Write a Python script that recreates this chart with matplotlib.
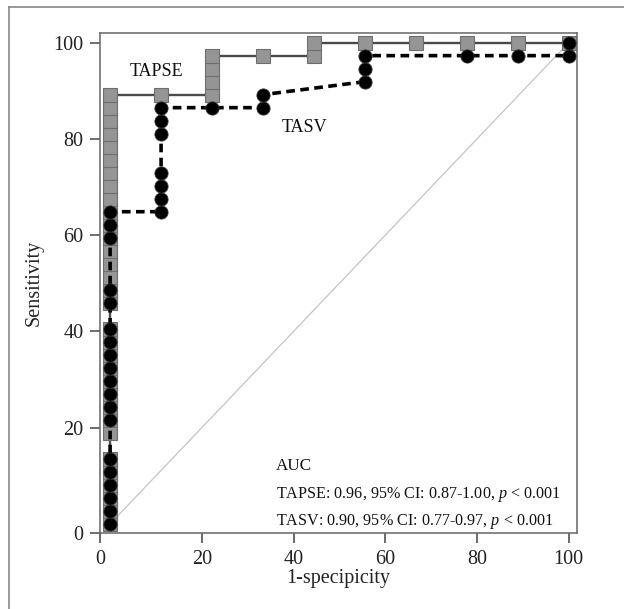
import numpy as np
import matplotlib.pyplot as plt
from matplotlib.lines import Line2D

# ROC data: 37 positives, 9 negatives (values in %)
n_pos = 37
n_neg = 9

# TAPSE: (false positives, true positive counts at that step)
tapse_fp = [0] * 32 + [1, 2, 2, 2, 2, 3, 4, 4, 5, 6, 7, 8, 9]
tapse_tp = [k for k in range(34) if k not in (6, 16)] + \
           [33, 33, 34, 35, 36, 36, 36, 37, 37, 37, 37, 37, 37]

# TASV
tasv_fp = [0] * 19 + [1] * 7 + [2, 3, 3, 5, 5, 5, 7, 8, 9, 9]
tasv_tp = [0, 1, 2, 3, 4, 5, 8, 9, 10, 11, 12, 13, 14, 15, 17, 18, 22, 23, 24] + \
          [24, 25, 26, 27, 30, 31, 32] + \
          [32, 32, 33, 34, 35, 36, 36, 36, 36, 37]

x_ticks = [0, 20, 40, 60, 80, 100]
y_ticks = [0, 20, 40, 60, 80, 100]

tapse_x = np.array(tapse_fp) / n_neg * 100
tapse_y = np.array(tapse_tp) / n_pos * 100
tasv_x = np.array(tasv_fp) / n_neg * 100
tasv_y = np.array(tasv_tp) / n_pos * 100

plt.rcParams['font.family'] = ['Liberation Serif', 'DejaVu Serif']
plt.rcParams['mathtext.fontset'] = 'custom'
plt.rcParams['mathtext.rm'] = 'Liberation Serif'
plt.rcParams['mathtext.it'] = 'Liberation Serif:italic'

fig = plt.figure(figsize=(6.24, 6.09), dpi=100)
ax = fig.add_axes([0.1603, 0.1248, 0.7644, 0.821])

# frame lines round the figure (left and top)
fig.add_artist(Line2D([0.0145, 0.0145], [0, 0.988], transform=fig.transFigure,
                      color='#888888', lw=1.2))
fig.add_artist(Line2D([0.0145, 1.0], [0.988, 0.988], transform=fig.transFigure,
                      color='#888888', lw=1.2))

ax.plot([0, 100], [0, 100], color='#c4c4c4', lw=0.9, zorder=1)

ax.plot(tapse_x, tapse_y, color='#4a4a4a', lw=1.7, zorder=2)
ax.plot(tapse_x, tapse_y, ls='none', marker='s', ms=9.5,
        mfc='#959595', mec='#6e6e6e', mew=0.8, zorder=3)

ax.plot(tasv_x, tasv_y, color='black', lw=2.6, dashes=(2.4, 1.5), zorder=4)
ax.plot(tasv_x, tasv_y, ls='none', marker='o', ms=9.5,
        mfc='black', mec='#333333', mew=0.6, zorder=5)

xlo, xhi = -2.2, 101.8
ylo, yhi = -1.9, 102.0
ax.set_xlim(xlo, xhi)
ax.set_ylim(ylo, yhi)

# the first tick sits on the axis line, as in the original
ax.set_xticks([xlo] + x_ticks[1:])
ax.set_xticklabels([str(t) for t in x_ticks])
ax.set_yticks([ylo] + y_ticks[1:])
ax.set_yticklabels([str(t) for t in y_ticks])

for side in ['left', 'bottom', 'top', 'right']:
    ax.spines[side].set_color('#666666')
    ax.spines[side].set_linewidth(1.1)
ax.tick_params(axis='both', direction='out', length=7, width=1.1,
               color='#444444', labelsize=14.5, pad=5, labelcolor='#222222')

ax.set_xlabel('1-specipicity', fontsize=14.5, color='#222222', labelpad=0)
ax.set_ylabel('Sensitivity', fontsize=14.5, color='#222222', labelpad=7)

ax.text(10.2, 93.9, 'TAPSE', fontsize=13, ha='center', va='center',
        color='#111111')
ax.text(42.3, 82.4, 'TASV', fontsize=13, ha='center', va='center',
        color='#111111')

ax.text(36.2, 12.0, 'AUC', fontsize=12.3, ha='left', va='center',
        color='#111111')
ax.text(36.2, 6.0, 'TAPSE: 0.96, 95% CI: 0.87-1.00, $\\it{p}$ < 0.001',
        fontsize=11.6, ha='left', va='center', color='#111111')
ax.text(36.2, 0.4, 'TASV: 0.90, 95% CI: 0.77-0.97, $\\it{p}$ < 0.001',
        fontsize=11.6, ha='left', va='center', color='#111111')

fig.savefig('out.png', dpi=100)
